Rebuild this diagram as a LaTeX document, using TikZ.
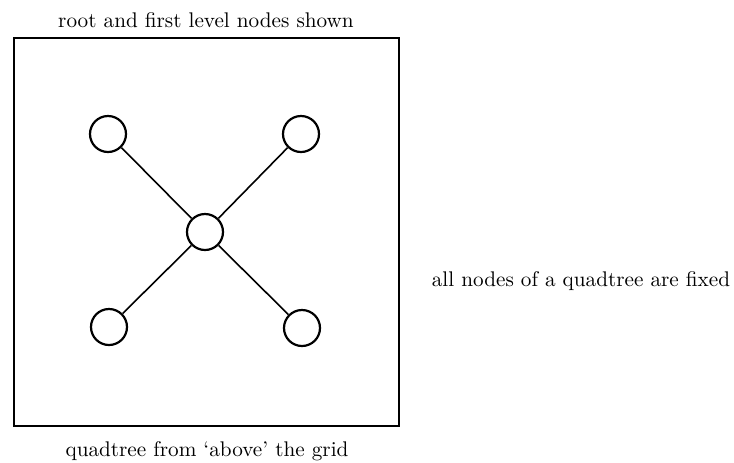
\documentclass[tikz,border=0pt]{standalone}
\usepackage{tikz}
\usetikzlibrary{positioning}

\begin{document}
\begin{tikzpicture}[
  x=0.5pt, y=-0.5pt,
  qnode/.style={circle, draw, line width=1.1pt, minimum size=18pt, inner sep=0pt},
  edge/.style={line width=0.8pt},
  frame/.style={draw, line width=1.1pt},
  caption/.style={font=\fontsize{10.6}{12.7}\selectfont, inner sep=0pt}
]
\useasboundingbox (0,0) rectangle (734,462);

% Grid frame
\node[frame, minimum width=192.5pt, minimum height=194pt, inner sep=0pt] (grid) at (206.5,232) {};

% Root and first level
\node[qnode] (root) at (205,232) {};
\node[qnode] (nw) at (108,134) {};
\node[qnode] (ne) at (301,134) {};
\node[qnode] (sw) at (109,327) {};
\node[qnode] (se) at (302,328) {};

\draw[edge] (root) -- (nw);
\draw[edge] (root) -- (ne);
\draw[edge] (root) -- (sw);
\draw[edge] (root) -- (se);

% Texts
\node[caption] (top) at (206,20) {root and first level nodes shown};
\node[caption] (bottom) at (207,451) {quadtree from `above' the grid};
\node[caption] (side) at (581,281) {all nodes of a quadtree are fixed};

\end{tikzpicture}
\end{document}
